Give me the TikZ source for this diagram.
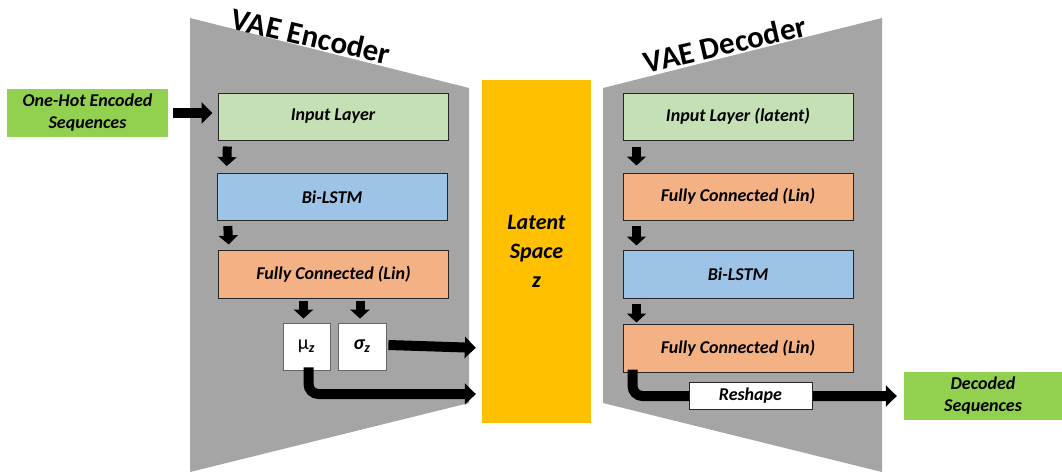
\documentclass[tikz,border=0pt]{standalone}
\usepackage{fontspec}
\setmainfont{Carlito}
\usepackage{amsmath}
\usetikzlibrary{arrows.meta,calc}
\definecolor{panelgrey}{HTML}{A5A5A5}
\definecolor{inputgreen}{HTML}{C5E0B4}
\definecolor{lstmblue}{HTML}{9DC3E6}
\definecolor{linorange}{HTML}{F4B183}
\definecolor{iogreen}{HTML}{92D050}
\definecolor{latentyellow}{HTML}{FFC000}
% bold italic subscript z set in the text font
\newcommand{\bisub}{$_{\text{\bfseries\itshape z}}$}
\begin{document}
\begin{tikzpicture}[x=1pt,y=-1pt,
  layerbox/.style={draw=black!85, line width=1pt, minimum width=230pt, minimum height=47pt,
    inner sep=0pt, font=\fontsize{18}{21}\selectfont\bfseries\itshape},
  iobox/.style={fill=iogreen, minimum height=48pt, inner sep=0pt, align=center,
    font=\fontsize{18}{22}\selectfont\bfseries\itshape},
  parambox/.style={draw=black!60, line width=0.8pt, fill=white, minimum width=47pt,
    minimum height=47pt, inner sep=0pt, font=\fontsize{20}{22}\selectfont},
  bigarrow/.style={line width=10pt, -{Triangle[length=11pt,width=21pt]}},
  downarrow/.style={line width=9pt, -{Triangle[length=9pt,width=19pt]}},
  title/.style={font=\fontsize{31}{33}\selectfont\bfseries, inner sep=0pt}
]
\useasboundingbox (0,0) rectangle (1062,475);

% encoder and decoder panels
\fill[panelgrey] (190,18) -- (469,88) -- (469,403) -- (190,472) -- cycle;
\fill[panelgrey] (603,88) -- (882,18) -- (882,472) -- (603,403) -- cycle;
\node[title, rotate=-13] (enctitle) at (311,36) {VAE Encoder};
\node[title, rotate=13] (dectitle) at (725,44) {VAE Decoder};

% latent space
\node[fill=latentyellow, minimum width=109pt, minimum height=343pt, inner sep=0pt,
  align=center, font=\fontsize{22}{29}\selectfont\bfseries\itshape] (lat) at (536.5,251.5)
  {Latent\\Space\\z};

% inputs and outputs
\node[iobox, minimum width=161pt] (ohe) at (87.5,113) {One-Hot Encoded\\Sequences};
\node[iobox, minimum width=158pt] (decseq) at (983,396) {Decoded\\Sequences};

% encoder layers
\node[layerbox, fill=inputgreen] (einp) at (333,116.5) {Input Layer};
\node[layerbox, fill=lstmblue] (elstm) at (332,197) {Bi-LSTM};
\node[layerbox, fill=linorange, minimum height=48pt] (efc) at (333.5,274) {Fully Connected (Lin)};
\node[parambox] (mu) at (306.5,346.5) {μ\bisub};
\node[parambox, minimum width=48pt] (sig) at (362,346.5) {\bfseries\itshape σ\bisub};

% decoder layers
\node[layerbox, fill=inputgreen] (dinp) at (738,116.5) {Input Layer (latent)};
\node[layerbox, fill=linorange] (dfc) at (738,196.5) {Fully Connected (Lin)};
\node[layerbox, fill=lstmblue, minimum height=48pt] (dlstm) at (738,274) {Bi-LSTM};
\node[layerbox, fill=linorange, minimum height=48pt] (dfc2) at (738,348) {Fully Connected (Lin)};

% encoder flow
\draw[bigarrow, shorten <=5pt, shorten >=5pt] (ohe.east) -- (ohe.east -| einp.west);
\draw[downarrow, shorten <=6pt, shorten >=7pt] ([xshift=10pt]einp.south west) -- ([xshift=10pt]elstm.north west);
\draw[downarrow, shorten <=5pt, shorten >=5pt] ([xshift=11pt]elstm.south west) -- ([xshift=11pt]efc.north west);
\draw[downarrow, shorten <=2pt, shorten >=4pt] ([xshift=-3pt]mu.north |- efc.south) -- ([xshift=-3pt]mu.north);
\draw[downarrow, shorten <=2pt, shorten >=4pt] ([xshift=-2pt]sig.north |- efc.south) -- ([xshift=-2pt]sig.north);
\coordinate (sigin) at ($(sig.east -| lat.west)+(0,1.5)$);
\draw[bigarrow, shorten >=6pt] ([shift={(2pt,1.5pt)}]sig.east) -- (sigin);
\coordinate (muin) at (lat.west |- 0,394);
\draw[bigarrow, rounded corners=10pt, shorten >=6pt] ([shift={(2pt,3pt)}]mu.south) |- (muin);

% decoder flow
\draw[downarrow, shorten <=6pt, shorten >=7pt] ([xshift=14pt]dinp.south west) -- ([xshift=14pt]dfc.north west);
\draw[downarrow, shorten <=5pt, shorten >=4pt] ([xshift=14pt]dfc.south west) -- ([xshift=14pt]dlstm.north west);
\draw[downarrow, shorten <=5pt, shorten >=1pt] ([xshift=14pt]dlstm.south west) -- ([xshift=14pt]dfc2.north west);
\draw[bigarrow, rounded corners=10pt, shorten <=-3pt, shorten >=7pt] ([xshift=10pt]dfc2.south west) |- (decseq.west);
\node[draw=black!85, line width=0.8pt, fill=white, minimum width=123pt, minimum height=27pt,
  inner sep=0pt, font=\fontsize{18}{21}\selectfont\bfseries\itshape] (reshape) at (750.5,395.5) {Reshape};
\end{tikzpicture}
\end{document}
